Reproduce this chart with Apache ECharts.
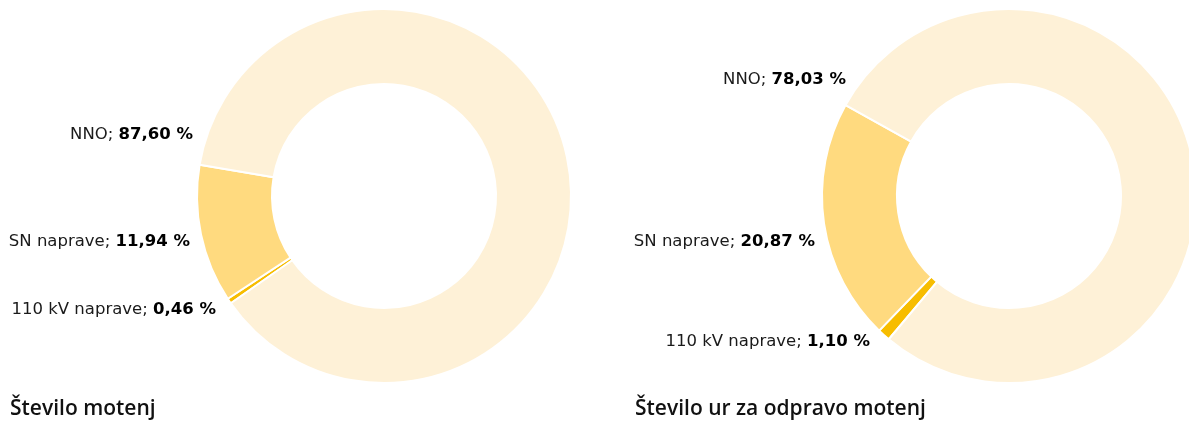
<!DOCTYPE html>
<html>
<head>
<meta charset="utf-8">
<script src="https://cdn.jsdelivr.net/npm/echarts@6/dist/echarts.min.js"></script>
<style>
  html, body { margin: 0; padding: 0; background: #fff; }
  #chart { width: 1189px; height: 425px; }
</style>
</head>
<body>
<div id="chart"></div>
<script>
// podatki
const categories = ["110 kV naprave", "SN naprave", "NNO"];
const steviloMotenj = [0.46, 11.94, 87.60];
const steviloUr = [1.10, 20.87, 78.03];
const titles = ["Število motenj", "Število ur za odpravo motenj"];

const colors = ["#F7BD00", "#FFDA7F", "#FEF1D7"];
const font = "DejaVu Sans";

// label anchors (right edge, middle) per chart, per category
const labelPos = [
    [[216, 310], [190, 242], [193, 135]],
    [[870, 342], [815, 242], [846, 80]]
];

function fmt(v) {
    return v.toFixed(2).replace(".", ",") + " %";
}

function makeSeries(idx, values, center, startAngle) {
    return {
        type: "pie",
        center: center,
        radius: [112, 187],
        startAngle: startAngle,
        clockwise: true,
        silent: true,
        animation: false,
        avoidLabelOverlap: false,
        itemStyle: {
            borderColor: "#ffffff",
            borderWidth: 2
        },
        label: {
            show: true,
            position: "outside",
            overflow: "none",
            formatter: (p) => "{n|" + p.name + "; }{b|" + fmt(p.value) + "}",
            rich: {
                n: { fontFamily: font, fontSize: 16.5, color: "#1a1a1a" },
                b: { fontFamily: font, fontSize: 16.5, fontWeight: "bold", color: "#000" }
            }
        },
        labelLine: { show: false },
        labelLayout: (params) => {
            const pos = labelPos[idx][params.dataIndex];
            return {
                x: pos[0], y: pos[1], align: "right", verticalAlign: "middle",
                hideOverlap: false, moveOverlap: null
            };
        },
        data: categories.map((c, i) => ({
            name: c,
            value: values[i],
            itemStyle: { color: colors[i] }
        }))
    };
}

const chart = echarts.init(document.getElementById("chart"), null, { renderer: "canvas" });
chart.setOption({
    animation: false,
    title: [
        {
            text: titles[0], left: 10, top: 399, padding: 0,
            textStyle: { fontFamily: "Open Sans", fontSize: 21, fontWeight: 600, color: "#111" }
        },
        {
            text: titles[1], left: 635, top: 399, padding: 0,
            textStyle: { fontFamily: "Open Sans", fontSize: 21, fontWeight: 600, color: "#111" }
        }
    ],
    series: [
        makeSeries(0, steviloMotenj, [384, 196], 215),
        makeSeries(1, steviloUr, [1009, 196], 230)
    ]
});
</script>
</body>
</html>
